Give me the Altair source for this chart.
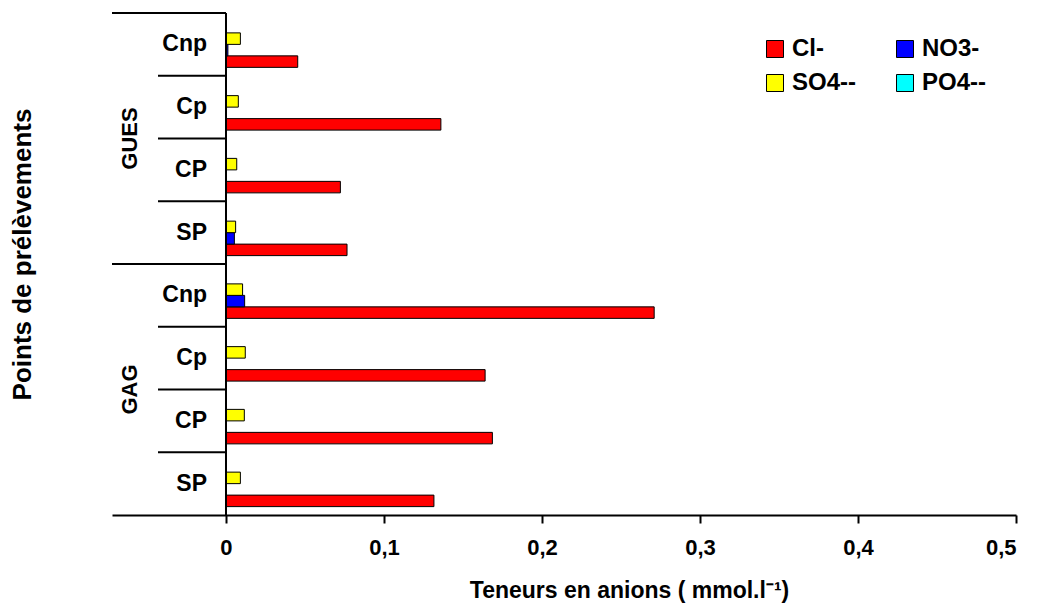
import altair as alt
import pandas as pd

# ---- data ----
groups = ["GUES", "GUES", "GUES", "GUES", "GAG", "GAG", "GAG", "GAG"]
samples = ["Cnp", "Cp", "CP", "SP", "Cnp", "Cp", "CP", "SP"]
ions = ["Cl-", "NO3-", "SO4--", "PO4--"]
cl = [0.0454, 0.136, 0.0724, 0.0766, 0.271, 0.164, 0.1686, 0.1316]
no3 = [0.0012, 0.0, 0.0, 0.0053, 0.0118, 0.0, 0.0, 0.0]
so4 = [0.0091, 0.0078, 0.0068, 0.0061, 0.0105, 0.0122, 0.0116, 0.0091]
po4 = [0.0, 0.0, 0.0, 0.0, 0.0, 0.0, 0.0, 0.0]
colors = ["#FF0000", "#0000FF", "#FFFF00", "#00FFFF"]
x_ticks = [0, 0.1, 0.2, 0.3, 0.4, 0.5]

keys = [f"{g}|{s}" for g, s in zip(groups, samples)]
series = {"Cl-": cl, "NO3-": no3, "SO4--": so4, "PO4--": po4}

rows = []
for ion in ions:
    for k, g, s, v in zip(keys, groups, samples, series[ion]):
        rows.append({"key": k, "group": g, "sample": s, "ion": ion, "value": v})
df = pd.DataFrame(rows)

cats = pd.DataFrame({"key": keys, "group": groups, "sample": samples,
                     "pos": list(range(len(keys)))})
first_keys = [keys[i] for i in range(len(keys)) if i == 0 or groups[i] != groups[i - 1]]
cats["first"] = cats["key"].isin(first_keys)
mid_keys = []
for g in dict.fromkeys(groups):
    idx = [i for i, gg in enumerate(groups) if gg == g]
    mid_keys.append(keys[idx[len(idx) // 2]])
cats["mid"] = cats["key"].isin(mid_keys)

# legend is laid out column by column: order so rows read Cl-, NO3- / SO4--, PO4--
legend_order = [ions[0], ions[2], ions[1], ions[3]]
legend_colors = [colors[0], colors[2], colors[1], colors[3]]

W, H = 904, 502
AX0 = 114  # pixel position of x=0 within the plot
FONT = "Liberation Sans"

xscale = alt.Scale(domain=[-0.07215, 0.5], nice=False, zero=False)
yscale = alt.Scale(domain=keys, paddingInner=0, paddingOuter=0)

bars = alt.Chart(df).mark_bar(stroke="black", strokeWidth=1).encode(
    x=alt.X("value:Q", scale=xscale,
            axis=alt.Axis(values=x_ticks, title="Teneurs en anions ( mmol.l⁻¹)",
                          labelExpr="replace(format(datum.value, '~g'), '.', ',')",
                          grid=False, domainColor="black", domainWidth=2,
                          tickColor="black", tickWidth=2, tickSize=8,
                          labelFont=FONT, labelFontSize=22, labelFontWeight="bold",
                          labelColor="black", labelPadding=14,
                          titleFont=FONT, titleFontSize=23, titleFontWeight="bold",
                          titleColor="black", titleX=517, titleY=82,
                          titleBaseline="alphabetic", titleAnchor="start",
                          titleAlign="center")),
    y=alt.Y("key:N", sort=keys, scale=yscale,
            axis=alt.Axis(labels=False, ticks=False, domain=False, grid=False,
                          title="Points de prélèvements",
                          titleFont=FONT, titleFontSize=26, titleFontWeight="bold",
                          titleColor="black", titleX=-90, titleY=241,
                          titleAngle=270, titleAlign="center",
                          titleBaseline="middle")),
    yOffset=alt.YOffset("ion:N", sort=list(reversed(ions)),
                        scale=alt.Scale(domain=list(reversed(ions)),
                                        paddingInner=0, paddingOuter=0.73)),
    color=alt.Color("ion:N", scale=alt.Scale(domain=legend_order, range=legend_colors),
                    legend=alt.Legend(title=None, orient="none", columns=2,
                                      legendX=651, legendY=24,
                                      symbolType="square", symbolSize=289,
                                      symbolStrokeColor="black", symbolStrokeWidth=1,
                                      symbolOpacity=1,
                                      labelFont=FONT, labelFontSize=24,
                                      labelFontWeight="bold", labelColor="black",
                                      labelOffset=5, columnPadding=36, rowPadding=10,
                                      padding=0)),
)

ybase = alt.Chart(cats)

long_sep = ybase.transform_filter("datum.first").mark_rule(
    color="black", strokeWidth=2).encode(
    y=alt.Y("key:N", sort=keys, scale=yscale, bandPosition=0),
    x=alt.value(0), x2=alt.value(AX0))

short_sep = ybase.transform_filter("!datum.first").mark_rule(
    color="black", strokeWidth=2).encode(
    y=alt.Y("key:N", sort=keys, scale=yscale, bandPosition=0),
    x=alt.value(46), x2=alt.value(AX0))

vline = ybase.transform_filter("datum.pos == 0").mark_rule(
    color="black", strokeWidth=2).encode(
    x=alt.X(datum=0, scale=xscale),
    y=alt.value(0), y2=alt.value(H))

sample_labels = ybase.mark_text(
    align="right", baseline="middle", font=FONT, fontSize=23,
    fontWeight="bold", color="black").encode(
    y=alt.Y("key:N", sort=keys, scale=yscale),
    x=alt.value(95), text="sample:N")

group_labels = ybase.transform_filter("datum.mid").mark_text(
    align="center", baseline="middle", angle=270, font=FONT, fontSize=22,
    fontWeight="bold", color="black").encode(
    y=alt.Y("key:N", sort=keys, scale=yscale, bandPosition=0),
    x=alt.value(18), text="group:N")

chart = alt.layer(bars, long_sep, short_sep, vline, sample_labels, group_labels).properties(
    width=W, height=H,
    autosize=alt.AutoSizeParams(type="none"),
    padding={"left": 104, "top": 5, "right": 13, "bottom": 89},
).configure_view(stroke=None, strokeWidth=0)

chart.save("out.html", embed_options={"renderer": "svg", "actions": False})
